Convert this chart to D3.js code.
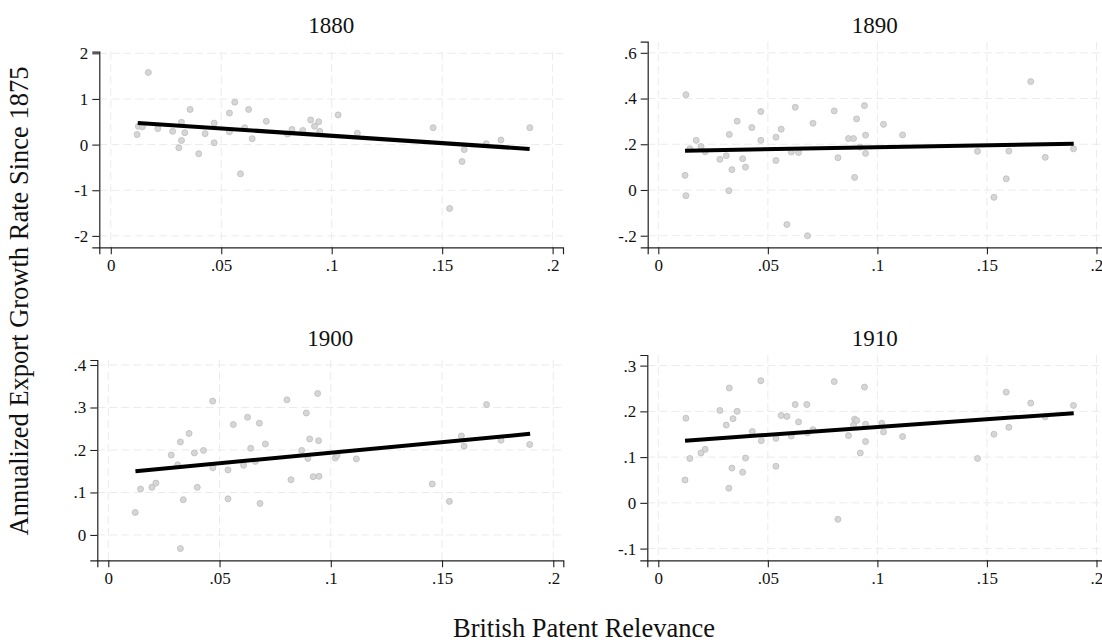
<!DOCTYPE html>
<html>
<head>
<meta charset="utf-8">
<script src="https://cdn.jsdelivr.net/npm/d3@7"></script>
<style>
    body { margin: 0; background: #fff; }
    svg { display: block; font-family: "Times New Roman", "Liberation Serif", serif; }
</style>
</head>
<body>
<svg id="chart" width="1102" height="643"></svg>
<script>

// panel titles (years)
const years = ["1880", "1890", "1900", "1910"];

// x axis, shared by all panels
const xTicks = [0, 0.05, 0.1, 0.15, 0.2];
const xTickLabels = ["0", ".05", ".1", ".15", ".2"];

// y ticks per panel
const yTicks1880 = [-2, -1, 0, 1, 2];
const yTickLabels1880 = ["-2", "-1", "0", "1", "2"];
const yTicks1890 = [-0.2, 0, 0.2, 0.4, 0.6];
const yTickLabels1890 = ["-.2", "0", ".2", ".4", ".6"];
const yTicks1900 = [0, 0.1, 0.2, 0.3, 0.4];
const yTickLabels1900 = ["0", ".1", ".2", ".3", ".4"];
const yTicks1910 = [-0.1, 0, 0.1, 0.2, 0.3];
const yTickLabels1910 = ["-.1", "0", ".1", ".2", ".3"];

// scatter points (patent relevance, growth rate)
const x1880 = [0.0119, 0.0125, 0.0143, 0.017, 0.0213, 0.028, 0.0308, 0.032, 0.032, 0.0335, 0.0359, 0.0398, 0.0427, 0.0468, 0.0468, 0.0537, 0.0537, 0.0561, 0.0587, 0.0606, 0.0624, 0.064, 0.0704, 0.080, 0.082, 0.0869, 0.0905, 0.0922, 0.0941, 0.0946, 0.1029, 0.1116, 0.1459, 0.1534, 0.159, 0.160, 0.170, 0.1766, 0.1897];
const y1880 = [0.22, 0.40, 0.39, 1.58, 0.35, 0.29, -0.07, 0.49, 0.09, 0.26, 0.77, -0.20, 0.24, 0.47, 0.04, 0.69, 0.28, 0.93, -0.64, 0.37, 0.77, 0.13, 0.51, 0.23, 0.33, 0.31, 0.54, 0.40, 0.50, 0.29, 0.65, 0.25, 0.37, -1.40, -0.37, -0.11, 0.02, 0.10, 0.37];

const x1890 = [0.0126, 0.0122, 0.0126, 0.0144, 0.0173, 0.0195, 0.0214, 0.0281, 0.031, 0.0324, 0.0322, 0.0336, 0.036, 0.0385, 0.0398, 0.0427, 0.0468, 0.0468, 0.0537, 0.0537, 0.0561, 0.0587, 0.0607, 0.0625, 0.064, 0.0681, 0.0706, 0.0803, 0.082, 0.0868, 0.0891, 0.0896, 0.0905, 0.0922, 0.0941, 0.0946, 0.0946, 0.1028, 0.1115, 0.1457, 0.1532, 0.1588, 0.160, 0.170, 0.1766, 0.1895];
const y1890 = [0.417, 0.064, -0.025, 0.18, 0.217, 0.19, 0.167, 0.134, 0.15, 0.243, -0.003, 0.089, 0.301, 0.137, 0.10, 0.273, 0.343, 0.217, 0.231, 0.129, 0.266, -0.151, 0.166, 0.362, 0.164, -0.20, 0.292, 0.346, 0.141, 0.225, 0.225, 0.055, 0.311, 0.188, 0.369, 0.24, 0.16, 0.287, 0.241, 0.169, -0.032, 0.049, 0.17, 0.474, 0.143, 0.18];

const x1900 = [0.0121, 0.0145, 0.0196, 0.0214, 0.0283, 0.0312, 0.0324, 0.0324, 0.0337, 0.0363, 0.0387, 0.040, 0.0428, 0.0469, 0.047, 0.0538, 0.0538, 0.0562, 0.0608, 0.0626, 0.064, 0.0661, 0.0679, 0.0682, 0.0706, 0.0803, 0.0821, 0.0869, 0.089, 0.0897, 0.0905, 0.0921, 0.0941, 0.0945, 0.0947, 0.102, 0.1028, 0.1115, 0.1456, 0.1533, 0.1587, 0.1599, 0.170, 0.1765, 0.1894];
const y1900 = [0.053, 0.108, 0.112, 0.122, 0.188, 0.165, 0.219, -0.032, 0.083, 0.239, 0.193, 0.112, 0.199, 0.315, 0.158, 0.153, 0.085, 0.26, 0.164, 0.277, 0.204, 0.173, 0.263, 0.074, 0.214, 0.318, 0.130, 0.199, 0.287, 0.18, 0.226, 0.137, 0.333, 0.222, 0.138, 0.181, 0.187, 0.179, 0.12, 0.079, 0.233, 0.209, 0.307, 0.223, 0.213];

const x1910 = [0.0324, 0.0468, 0.0803, 0.0941, 0.0126, 0.0281, 0.031, 0.0341, 0.036, 0.0429, 0.047, 0.0537, 0.0561, 0.0587, 0.0607, 0.0625, 0.064, 0.0678, 0.0681, 0.0706, 0.0868, 0.0891, 0.0896, 0.0906, 0.0922, 0.0946, 0.0946, 0.102, 0.1028, 0.1115, 0.1457, 0.1532, 0.1588, 0.160, 0.170, 0.1766, 0.1895, 0.0122, 0.0144, 0.0195, 0.0214, 0.0336, 0.0322, 0.0385, 0.0398, 0.0537, 0.082];
const y1910 = [0.251, 0.267, 0.265, 0.253, 0.185, 0.202, 0.170, 0.184, 0.2, 0.156, 0.136, 0.141, 0.191, 0.189, 0.146, 0.215, 0.177, 0.215, 0.153, 0.16, 0.147, 0.170, 0.183, 0.180, 0.109, 0.172, 0.134, 0.174, 0.155, 0.145, 0.097, 0.150, 0.242, 0.165, 0.218, 0.188, 0.213, 0.050, 0.097, 0.109, 0.117, 0.076, 0.032, 0.067, 0.098, 0.080, -0.036];

// fitted line endpoints
const fitX = [0.0122, 0.1896];
const fit1880 = [0.475, -0.095];
const fit1890 = [0.172, 0.202];
const fit1900 = [0.150, 0.238];
const fit1910 = [0.136, 0.196];

// panel layout: plot box in pixels and axis ranges
let panels = [
    { title: years[0], xs: x1880, ys: y1880, fit: fit1880, yTicks: yTicks1880, yLabels: yTickLabels1880,
      left: 99.3, right: 563, top: 51.7, bottom: 247.3, xd: [-0.0052, 0.2047], yd: [-2.25, 2.035], titleY: 33 },
    { title: years[1], xs: x1890, ys: y1890, fit: fit1890, yTicks: yTicks1890, yLabels: yTickLabels1890,
      left: 647.7, right: 1107, top: 41.7, bottom: 247.3, xd: [-0.00484, 0.2048], yd: [-0.2507, 0.6486], titleY: 33 },
    { title: years[2], xs: x1900, ys: y1900, fit: fit1900, yTicks: yTicks1900, yLabels: yTickLabels1900,
      left: 97.3, right: 563.3, top: 360, bottom: 560.3, xd: [-0.00494, 0.2045], yd: [-0.0597, 0.4118], titleY: 346 },
    { title: years[3], xs: x1910, ys: y1910, fit: fit1910, yTicks: yTicks1910, yLabels: yTickLabels1910,
      left: 647.3, right: 1107, top: 355, bottom: 560.3, xd: [-0.00502, 0.2048], yd: [-0.1256, 0.3232], titleY: 346 }
];

let svg = d3.select("#chart");

function drawPanel(p) {
    let xScale = d3.scaleLinear().domain(p.xd).range([p.left, p.right]);
    let yScale = d3.scaleLinear().domain(p.yd).range([p.bottom, p.top]);

    let g = svg.append("g");

    // grid, dashed light gray
    g.selectAll(".hgrid")
        .data(p.yTicks)
        .enter()
        .append("line")
        .attr("x1", p.left).attr("x2", p.right)
        .attr("y1", d => yScale(d)).attr("y2", d => yScale(d))
        .attr("stroke", "#ebebeb")
        .attr("stroke-width", 1)
        .attr("stroke-dasharray", "8,4");

    g.selectAll(".vgrid")
        .data(xTicks)
        .enter()
        .append("line")
        .attr("x1", d => xScale(d)).attr("x2", d => xScale(d))
        .attr("y1", p.top).attr("y2", p.bottom)
        .attr("stroke", "#ebebeb")
        .attr("stroke-width", 1)
        .attr("stroke-dasharray", "8,4");

    // points
    let pts = p.xs.map((x, i) => [x, p.ys[i]]);
    g.selectAll("circle")
        .data(pts)
        .enter()
        .append("circle")
        .attr("cx", d => xScale(d[0]))
        .attr("cy", d => yScale(d[1]))
        .attr("r", 3)
        .attr("fill", "#d6d6d6")
        .attr("stroke", "#bdbdbd")
        .attr("stroke-width", 0.8);

    // fitted line
    g.append("line")
        .attr("x1", xScale(fitX[0])).attr("y1", yScale(p.fit[0]))
        .attr("x2", xScale(fitX[1])).attr("y2", yScale(p.fit[1]))
        .attr("stroke", "#000")
        .attr("stroke-width", 4);

    // axes
    let xAxis = d3.axisBottom(xScale)
        .tickValues(xTicks)
        .tickFormat((d, i) => xTickLabels[i])
        .tickSizeOuter(0)
        .tickSize(7)
        .tickPadding(5);

    let yAxis = d3.axisLeft(yScale)
        .tickValues(p.yTicks)
        .tickFormat((d, i) => p.yLabels[i])
        .tickSizeOuter(0)
        .tickSize(7)
        .tickPadding(4);

    let gx = g.append("g")
        .attr("transform", "translate(0," + p.bottom + ")")
        .call(xAxis);

    let gy = g.append("g")
        .attr("transform", "translate(" + p.left + ",0)")
        .call(yAxis);

    [gx, gy].forEach(a => {
        a.attr("font-family", null);
        a.select(".domain").attr("stroke", "#222").attr("stroke-width", 1.2);
        a.selectAll(".tick line").attr("stroke", "#222").attr("stroke-width", 1.1);
        a.selectAll("text")
            .attr("fill", "#111")
            .style("font-family", "\"Times New Roman\", \"Liberation Serif\", serif")
            .style("font-size", "17px");
    });

    // title
    svg.append("text")
        .attr("x", (p.left + Math.min(p.right, 1102)) / 2)
        .attr("y", p.titleY)
        .attr("text-anchor", "middle")
        .attr("fill", "#111")
        .style("font-size", "23px")
        .text(p.title);
}

panels.forEach(p => drawPanel(p));

// axis titles
svg.append("text")
    .attr("transform", "translate(28,301) rotate(-90)")
    .attr("text-anchor", "middle")
    .attr("fill", "#111")
    .style("font-size", "26.5px")
    .text("Annualized Export Growth Rate Since 1875");

svg.append("text")
    .attr("x", 584)
    .attr("y", 637)
    .attr("text-anchor", "middle")
    .attr("fill", "#111")
    .style("font-size", "26.5px")
    .text("British Patent Relevance");

</script>
</body>
</html>
